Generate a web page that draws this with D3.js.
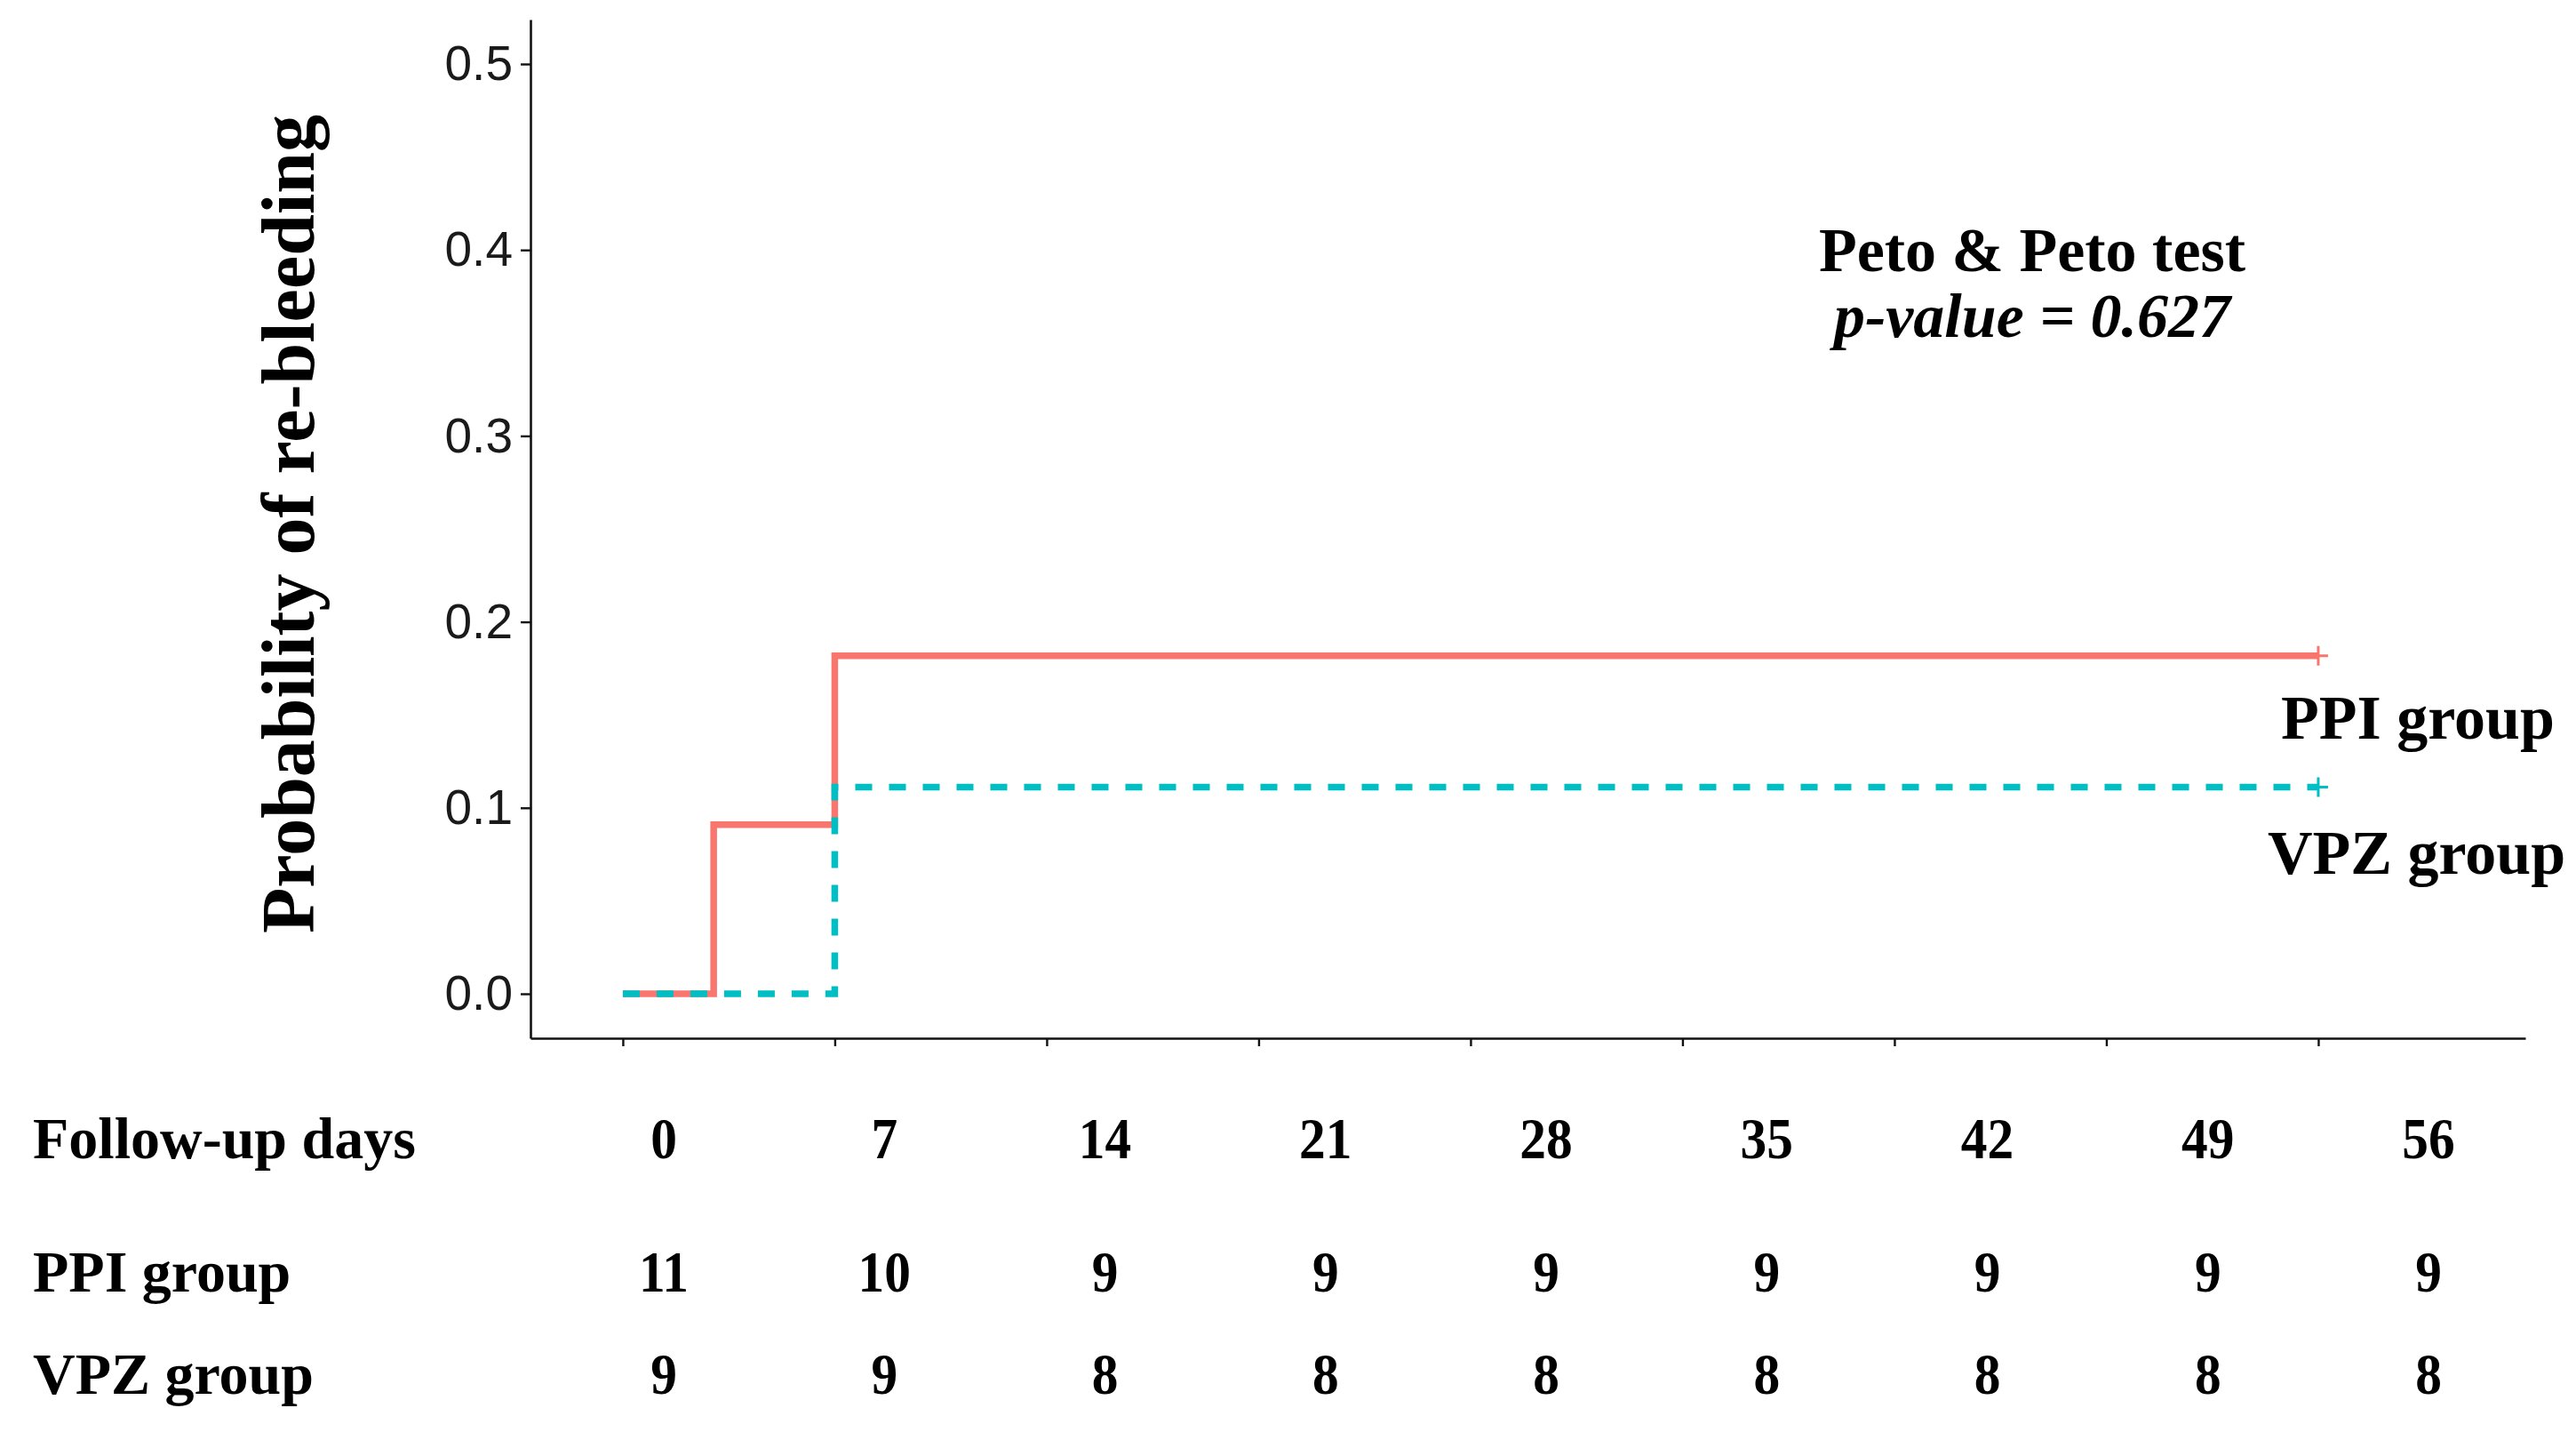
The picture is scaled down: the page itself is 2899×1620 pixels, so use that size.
<!DOCTYPE html>
<html>
<head>
<meta charset="utf-8">
<script src="https://cdn.jsdelivr.net/npm/d3@7"></script>
<style>
  html, body { margin: 0; padding: 0; background: #fff; }
  svg { display: block; }
</style>
</head>
<body>
<svg id="chart" width="2899" height="1620"></svg>
<script>
// ---- data ----
const followUpDays = [0, 7, 14, 21, 28, 35, 42, 49, 56];
const yTickValues = [0, 0.1, 0.2, 0.3, 0.4, 0.5];
const groupNames = ["PPI group", "VPZ group"];
const ppiTimes = [0, 3, 7, 56];
const ppiProb = [0, 0.0909, 0.1818, 0.1818];
const vpzTimes = [0, 7, 56];
const vpzProb = [0, 0.1111, 0.1111];
const ppiAtRisk = [11, 10, 9, 9, 9, 9, 9, 9, 9];
const vpzAtRisk = [9, 9, 8, 8, 8, 8, 8, 8, 8];
const testName = "Peto & Peto test";
const pValueText = "p-value = 0.627";
const yTitle = "Probability of re-bleeding";
const tableTitle = "Follow-up days";

// ---- setup ----
const svg = d3.select("#chart");
const serif = "'Liberation Serif', 'Times New Roman', serif";
const sans = "'Liberation Sans', Arial, sans-serif";
const red = "#F8766D", cyan = "#00BFC4";

const x = d3.scaleLinear().domain([-3.05, 62.84]).range([597, 2842]);
const y = d3.scaleLinear().domain([-0.0239, 0.5239]).range([1168, 22]);

// axes
const yAxis = svg.append("g").attr("transform", `translate(${x.range()[0]},0)`)
  .call(d3.axisLeft(y).tickValues(yTickValues).tickFormat(d3.format(".1f"))
        .tickSize(11).tickSizeOuter(0).tickPadding(9));
const xAxis = svg.append("g").attr("transform", `translate(0,${y.range()[0]})`)
  .call(d3.axisBottom(x).tickValues(followUpDays).tickFormat("")
        .tickSize(9).tickSizeOuter(0));
[yAxis, xAxis].forEach(g => {
  g.select(".domain").attr("stroke", "#111").attr("stroke-width", 2.6);
  g.selectAll(".tick line").attr("stroke", "#111").attr("stroke-width", 2.4);
});
yAxis.selectAll(".tick text")
  .attr("font-family", sans).attr("font-size", 55).attr("fill", "#1a1a1a");

// curves
const line = d3.line().curve(d3.curveStepAfter).x(d => x(d[0])).y(d => y(d[1]));
const series = [
  { name: groupNames[0], pts: ppiTimes.map((t, i) => [t, ppiProb[i]]), color: red, dash: null },
  { name: groupNames[1], pts: vpzTimes.map((t, i) => [t, vpzProb[i]]), color: cyan, dash: "19,19" }
];
series.forEach(s => {
  svg.append("path").datum(s.pts).attr("d", line)
    .attr("fill", "none").attr("stroke", s.color).attr("stroke-width", 7.5)
    .attr("stroke-dasharray", s.dash);
  const last = s.pts[s.pts.length - 1];
  const cx = x(last[0]), cy = y(last[1]);
  svg.append("path")
    .attr("d", `M${cx - 11},${cy}H${cx + 11}M${cx},${cy - 11}V${cy + 11}`)
    .attr("stroke", s.color).attr("stroke-width", 3).attr("fill", "none");
});

// y-axis title
svg.append("text")
  .attr("transform", `translate(353,${(127 + 1052) / 2}) rotate(-90)`)
  .attr("text-anchor", "middle")
  .attr("font-family", serif).attr("font-weight", "bold").attr("font-size", 84)
  .attr("fill", "#000").text(yTitle);

// test annotation
svg.append("text").attr("x", 2287).attr("y", 305).attr("text-anchor", "middle")
  .attr("font-family", serif).attr("font-weight", "bold").attr("font-size", 70)
  .text(testName);
svg.append("text").attr("x", 2287).attr("y", 379).attr("text-anchor", "middle")
  .attr("font-family", serif).attr("font-weight", "bold").attr("font-style", "italic")
  .attr("font-size", 70).text(pValueText);

// group labels at right
const groupLabelPos = [{ x: 2567, y: 831 }, { x: 2552, y: 983 }];
groupNames.forEach((g, i) => {
  svg.append("text").attr("x", groupLabelPos[i].x).attr("y", groupLabelPos[i].y)
    .attr("font-family", serif).attr("font-weight", "bold").attr("font-size", 70)
    .text(g);
});

// risk table
const col = d3.scalePoint().domain(followUpDays).range([747, 2733]);
const rows = [
  { label: tableTitle, vals: followUpDays, base: 1303 },
  { label: groupNames[0], vals: ppiAtRisk, base: 1453 },
  { label: groupNames[1], vals: vpzAtRisk, base: 1568 }
];
rows.forEach(r => {
  svg.append("text").attr("x", 37).attr("y", r.base)
    .attr("font-family", serif).attr("font-weight", "bold").attr("font-size", 66)
    .text(r.label);
  svg.append("g").selectAll("text").data(r.vals).join("text")
    .attr("transform", (d, i) => `translate(${col(followUpDays[i])},${r.base}) scale(0.9,1)`)
    .attr("text-anchor", "middle")
    .attr("font-family", serif).attr("font-weight", "bold").attr("font-size", 66)
    .text(d => d);
});
</script>
</body>
</html>
